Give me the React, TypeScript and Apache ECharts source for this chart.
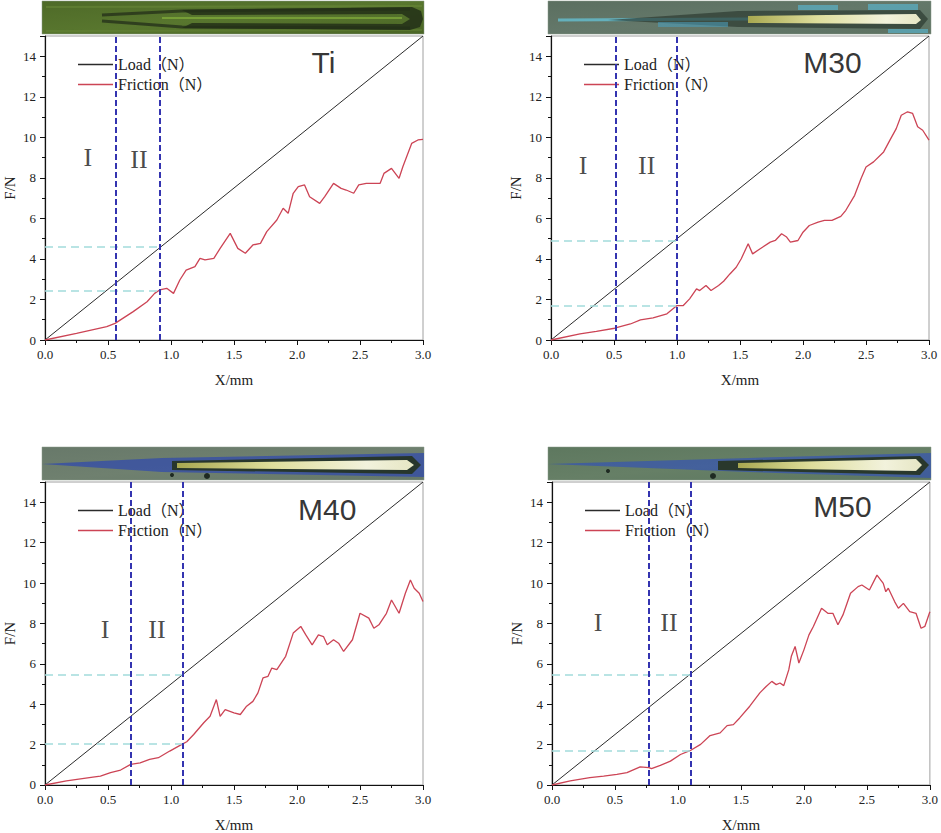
import React, { useEffect, useRef } from "react";
import * as echarts from "echarts";

// ---------- data ----------
const panelTitles = ["Ti", "M30", "M40", "M50"];
const loadLine: [number, number][] = [[0, 0], [3, 15]];

const frictionTi: [number, number][] = [
  [0, 0], [0.25, 0.33], [0.49, 0.66], [0.556, 0.82], [0.7, 1.4], [0.81, 1.89], [0.87, 2.3],
  [0.91, 2.47], [0.966, 2.55], [1.02, 2.3], [1.07, 2.96], [1.12, 3.45], [1.19, 3.62],
  [1.23, 4.03], [1.27, 3.95], [1.34, 4.03], [1.39, 4.52], [1.47, 5.26], [1.53, 4.52],
  [1.59, 4.28], [1.65, 4.69], [1.71, 4.77], [1.76, 5.35], [1.84, 5.92], [1.89, 6.5],
  [1.93, 6.25], [1.97, 7.24], [2.01, 7.57], [2.06, 7.65], [2.1, 7.07], [2.18, 6.74],
  [2.22, 7.07], [2.29, 7.73], [2.35, 7.48], [2.39, 7.4], [2.45, 7.24], [2.49, 7.65],
  [2.55, 7.73], [2.66, 7.73], [2.69, 8.22], [2.75, 8.47], [2.81, 7.98], [2.84, 8.55],
  [2.91, 9.7], [2.96, 9.87], [3.0, 9.9],
];
const frictionM30: [number, number][] = [
  [0, 0], [0.23, 0.3], [0.36, 0.43], [0.505, 0.58], [0.63, 0.79], [0.71, 0.99], [0.81, 1.09],
  [0.92, 1.29], [1.0, 1.7], [1.05, 1.7], [1.1, 2.03], [1.155, 2.52], [1.18, 2.44],
  [1.23, 2.69], [1.27, 2.44], [1.33, 2.69], [1.37, 2.9], [1.42, 3.26], [1.47, 3.59],
  [1.51, 4.01], [1.565, 4.75], [1.6, 4.25], [1.66, 4.5], [1.74, 4.83], [1.78, 4.91],
  [1.83, 5.24], [1.87, 5.08], [1.9, 4.83], [1.96, 4.91], [2.0, 5.32], [2.05, 5.65],
  [2.12, 5.82], [2.17, 5.9], [2.23, 5.9], [2.3, 6.1], [2.34, 6.4], [2.41, 7.14],
  [2.46, 7.96], [2.5, 8.54], [2.56, 8.79], [2.64, 9.28], [2.69, 9.86], [2.74, 10.43],
  [2.78, 11.09], [2.83, 11.26], [2.87, 11.18], [2.91, 10.52], [2.95, 10.35], [3.0, 9.86],
];
const frictionM40: [number, number][] = [
  [0, 0], [0.17, 0.2], [0.38, 0.39], [0.44, 0.44], [0.52, 0.61], [0.6, 0.74], [0.68, 1.02],
  [0.755, 1.1], [0.83, 1.27], [0.9, 1.35], [0.99, 1.68], [1.086, 2.01], [1.125, 2.14],
  [1.18, 2.5], [1.26, 3.08], [1.31, 3.4], [1.36, 4.23], [1.39, 3.4], [1.43, 3.73],
  [1.5, 3.57], [1.55, 3.49], [1.6, 3.9], [1.65, 4.14], [1.69, 4.56], [1.73, 5.3],
  [1.77, 5.38], [1.8, 5.79], [1.84, 5.71], [1.91, 6.37], [1.97, 7.52], [2.03, 7.85],
  [2.07, 7.43], [2.12, 6.94], [2.17, 7.43], [2.21, 7.35], [2.24, 6.94], [2.29, 7.19],
  [2.33, 7.02], [2.37, 6.61], [2.44, 7.19], [2.5, 8.5], [2.57, 8.26], [2.61, 7.76],
  [2.65, 7.93], [2.71, 8.5], [2.75, 9.16], [2.81, 8.5], [2.86, 9.49], [2.9, 10.15],
  [2.93, 9.74], [2.97, 9.49], [3.0, 9.08],
];
const frictionM50: [number, number][] = [
  [0, 0], [0.145, 0.2], [0.3, 0.36], [0.41, 0.44], [0.515, 0.53], [0.595, 0.61], [0.7, 0.9],
  [0.77, 0.86], [0.79, 0.81], [0.86, 0.97], [0.94, 1.18], [1.02, 1.51], [1.105, 1.73],
  [1.18, 2.01], [1.255, 2.45], [1.335, 2.58], [1.39, 2.94], [1.44, 2.99], [1.49, 3.32],
  [1.57, 3.9], [1.65, 4.56], [1.7, 4.88], [1.745, 5.13], [1.78, 4.97], [1.81, 5.05],
  [1.84, 4.92], [1.88, 5.71], [1.9, 6.37], [1.93, 6.86], [1.96, 6.04], [2.0, 6.69],
  [2.04, 7.43], [2.075, 7.85], [2.14, 8.75], [2.19, 8.5], [2.23, 8.5], [2.27, 7.93],
  [2.31, 8.42], [2.37, 9.49], [2.43, 9.82], [2.46, 9.9], [2.52, 9.65], [2.58, 10.39],
  [2.63, 9.98], [2.65, 9.57], [2.67, 9.74], [2.72, 9.08], [2.75, 8.75], [2.79, 8.99],
  [2.84, 8.58], [2.89, 8.5], [2.93, 7.76], [2.96, 7.85], [3.0, 8.58],
];
const frictionSets = [frictionTi, frictionM30, frictionM40, frictionM50];

// stage boundaries (mm) and critical force levels (N)
const stageStart = [0.556, 0.505, 0.68, 0.772];
const stageEnd = [0.91, 1.0, 1.086, 1.105];
const loadLevel = [4.6, 4.9, 5.46, 5.46];
const frictionLevel = [2.45, 1.7, 2.06, 1.68];

// annotation anchors in data space
const stageILabel: [number, number][] = [[0.34, 9.0], [0.254, 8.6], [0.476, 7.7], [0.365, 8.04]];
const stageIILabel: [number, number][] = [[0.746, 8.9], [0.76, 8.6], [0.889, 7.7], [0.929, 8.04]];
const titleAnchor: [number, number][] = [[2.21, 13.7], [2.234, 13.7], [2.24, 13.64], [2.306, 13.8]];

const xTicks = [0, 3, 0.5];
const yTicks = [0, 15, 2];

// ---------- layout ----------
const grids = [
  { left: 45, top: 36 },
  { left: 551, top: 36 },
  { left: 45, top: 482 },
  { left: 552, top: 482 },
];
const GW = 378;
const GH = 304;

const SERIF = "Liberation Serif, Times New Roman, DejaVu Serif, Noto Sans CJK SC, serif";
const SANS = "Liberation Sans, Arial, Noto Sans, sans-serif";

function strip(kind: number, x: number, y: number, w: number, h: number): any {
  const base = [
    ["#4e6a28", "#58762e", "#4b6626"],
    ["#5b6f60", "#64786a", "#5d7262"],
    ["#68796a", "#6f806f", "#657868"],
    ["#5e785f", "#667f66", "#5c7760"],
  ][kind];
  const children: any[] = [
    {
      type: "rect",
      shape: { x: 0, y: 0, width: w, height: h },
      style: {
        fill: new echarts.graphic.LinearGradient(0, 0, 1, 1, [
          { offset: 0, color: base[0] },
          { offset: 0.5, color: base[1] },
          { offset: 1, color: base[2] },
        ]),
        stroke: "#8a9a8a",
        lineWidth: 0.5,
      },
    },
  ];
  const bright = new echarts.graphic.LinearGradient(0, 0, 1, 0, [
    { offset: 0, color: "#a8a850" },
    { offset: 0.4, color: "#dede9c" },
    { offset: 0.8, color: "#f2f2dc" },
    { offset: 1, color: "#e6e6c4" },
  ]);
  if (kind === 0) {
    children.push(
      { type: "polyline", shape: { points: [[4, 6], [380, 5]] }, style: { stroke: "#6e8e3c", lineWidth: 2, opacity: 0.45 } },
      { type: "polyline", shape: { points: [[4, 30], [380, 29]] }, style: { stroke: "#6a8a3a", lineWidth: 2, opacity: 0.4 } },
      { type: "polyline", shape: { points: [[60, 14], [140, 10], [368, 8]] }, style: { stroke: "#25321a", lineWidth: 3, opacity: 0.8 } },
      { type: "polyline", shape: { points: [[60, 20], [140, 26], [368, 27]] }, style: { stroke: "#25321a", lineWidth: 3, opacity: 0.8 } },
      {
        type: "polygon",
        shape: { points: [[140, 9], [370, 6], [379, 10], [381, 18], [378, 26], [368, 29], [140, 27], [150, 22], [360, 23], [368, 18], [360, 13], [150, 14]] },
        style: { fill: "#233017", opacity: 0.85 },
      },
      { type: "polyline", shape: { points: [[120, 17], [360, 17]] }, style: { stroke: "#8fc040", lineWidth: 2, opacity: 0.55 } }
    );
  } else if (kind === 1) {
    children.push(
      { type: "polyline", shape: { points: [[10, 19], [200, 18]] }, style: { stroke: "#66c4d8", lineWidth: 3, opacity: 0.75 } },
      { type: "polygon", shape: { points: [[60, 19], [190, 10], [372, 9], [380, 18], [372, 28], [190, 26]] }, style: { fill: "#28362c", opacity: 0.65 } },
      { type: "polygon", shape: { points: [[200, 15], [368, 13], [373, 19], [368, 23], [200, 22]] }, style: { fill: bright } },
      { type: "rect", shape: { x: 250, y: 4, width: 40, height: 5 }, style: { fill: "#5ab0c8", opacity: 0.7 } },
      { type: "rect", shape: { x: 320, y: 3, width: 50, height: 6 }, style: { fill: "#5ab0c8", opacity: 0.7 } },
      { type: "rect", shape: { x: 340, y: 28, width: 40, height: 4 }, style: { fill: "#5ab0c8", opacity: 0.7 } },
      { type: "rect", shape: { x: 110, y: 21, width: 70, height: 5 }, style: { fill: "#4aa0c0", opacity: 0.55 } }
    );
  } else if (kind === 2) {
    children.push(
      { type: "polygon", shape: { points: [[0, 17], [120, 11], [382, 6], [382, 30], [120, 25]] }, style: { fill: "#2a44b4", opacity: 0.65 } },
      { type: "polygon", shape: { points: [[130, 14], [370, 9], [379, 18], [370, 27], [130, 23]] }, style: { fill: "#27362c" } },
      { type: "polygon", shape: { points: [[135, 16], [365, 13], [372, 18], [365, 23], [135, 21]] }, style: { fill: bright } },
      { type: "circle", shape: { cx: 165, cy: 29, r: 3 }, style: { fill: "#1e2a22" } },
      { type: "circle", shape: { cx: 130, cy: 28, r: 2 }, style: { fill: "#1e2a22" } }
    );
  } else {
    children.push(
      { type: "polygon", shape: { points: [[0, 17], [200, 11], [383, 6], [383, 31], [200, 25]] }, style: { fill: "#2d4cc0", opacity: 0.6 } },
      { type: "polygon", shape: { points: [[170, 14], [372, 9], [381, 18], [372, 28], [170, 23]] }, style: { fill: "#29382c" } },
      { type: "polygon", shape: { points: [[190, 16], [368, 12], [374, 18], [368, 24], [190, 21]] }, style: { fill: bright } },
      { type: "circle", shape: { cx: 165, cy: 29, r: 3 }, style: { fill: "#1e2a22" } },
      { type: "circle", shape: { cx: 60, cy: 24, r: 2 }, style: { fill: "#1e2a22" } }
    );
  }
  return { type: "group", x, y, silent: true, children };
}

function buildOption(): any {
  const grid: any[] = [];
  const xAxis: any[] = [];
  const yAxis: any[] = [];
  const legend: any[] = [];
  const series: any[] = [];

  grids.forEach((g, i) => {
    grid.push({
      left: g.left,
      top: g.top,
      width: GW,
      height: GH,
      show: true,
      borderColor: "#a0a0a0",
      borderWidth: 1,
      backgroundColor: "transparent",
    });
    xAxis.push({
      type: "value",
      gridIndex: i,
      min: xTicks[0],
      max: xTicks[1],
      interval: xTicks[2],
      name: "X/mm",
      nameLocation: "middle",
      nameGap: 32,
      nameTextStyle: { fontFamily: SERIF, fontSize: 15, color: "#222" },
      axisLine: { lineStyle: { color: "#111", width: 1.2 } },
      axisTick: { length: 5, lineStyle: { color: "#111" } },
      minorTick: { show: true, splitNumber: 2, length: 3, lineStyle: { color: "#111" } },
      axisLabel: {
        fontFamily: SERIF,
        fontSize: 13,
        color: "#222",
        margin: 8,
        formatter: (v: number) => v.toFixed(1),
      },
      splitLine: { show: false },
    });
    yAxis.push({
      type: "value",
      gridIndex: i,
      min: yTicks[0],
      max: yTicks[1],
      interval: yTicks[2],
      name: "F/N",
      nameLocation: "middle",
      nameGap: 28,
      nameTextStyle: { fontFamily: SERIF, fontSize: 15, color: "#222" },
      axisLine: { show: true, lineStyle: { color: "#111", width: 1.2 } },
      axisTick: { show: true, length: 5, lineStyle: { color: "#111" } },
      minorTick: { show: true, splitNumber: 2, length: 3, lineStyle: { color: "#111" } },
      axisLabel: { fontFamily: SERIF, fontSize: 13, color: "#222", margin: 9, showMaxLabel: false },
      splitLine: { show: false },
    });
    legend.push({
      left: g.left + 33,
      top: g.top + 20,
      orient: "vertical",
      icon: "rect",
      itemWidth: 35,
      itemHeight: 1.4,
      itemGap: 3,
      padding: 0,
      data: ["Load（N）", "Friction（N）"],
      textStyle: { fontFamily: SERIF, fontSize: 16, color: "#222", lineHeight: 17 },
      selectedMode: false,
    });

    series.push({
      name: "Load（N）",
      type: "line",
      xAxisIndex: i,
      yAxisIndex: i,
      data: loadLine,
      symbol: "none",
      lineStyle: { color: "#2b2b2b", width: 1 },
      itemStyle: { color: "#2b2b2b" },
      z: 2,
      markLine: {
        silent: true,
        symbol: "none",
        label: { show: false },
        lineStyle: { color: "#a2dcdc", width: 1.5, type: [8, 5] },
        data: [
          [{ coord: [0, loadLevel[i]] }, { coord: [stageEnd[i], loadLevel[i]] }],
          [{ coord: [0, frictionLevel[i]] }, { coord: [stageEnd[i], frictionLevel[i]] }],
        ],
      },
    });
    series.push({
      name: "Friction（N）",
      type: "line",
      xAxisIndex: i,
      yAxisIndex: i,
      data: frictionSets[i],
      symbol: "none",
      lineStyle: { color: "#cc4455", width: 1.3 },
      itemStyle: { color: "#cc4455" },
      z: 3,
      markLine: {
        silent: true,
        symbol: "none",
        label: { show: false },
        lineStyle: { color: "#3434b0", width: 2, type: [6, 3] },
        data: [{ xAxis: stageStart[i] }, { xAxis: stageEnd[i] }],
      },
    });
    series.push({
      name: "annot" + i,
      type: "scatter",
      xAxisIndex: i,
      yAxisIndex: i,
      symbolSize: 1,
      silent: true,
      itemStyle: { color: "rgba(0,0,0,0)" },
      label: {
        show: true,
        position: "inside",
        formatter: "{b}",
        fontFamily: SERIF,
        fontSize: 26,
        color: "#1a1a1a",
      },
      z: 4,
      data: [
        { name: "I", value: stageILabel[i] },
        { name: "II", value: stageIILabel[i] },
        {
          name: panelTitles[i],
          value: titleAnchor[i],
          label: { fontFamily: SANS, fontSize: 30, color: "#000" },
        },
      ],
    });
  });

  const graphic = [
    strip(0, 42, 1, 382, 33),
    strip(1, 548, 1, 383, 33),
    strip(2, 42, 447, 382, 33),
    strip(3, 548, 447, 383, 33),
  ];

  return {
    animation: false,
    backgroundColor: "#ffffff",
    grid,
    xAxis,
    yAxis,
    legend,
    series,
    graphic,
  };
}

export default function App() {
  const ref = useRef<HTMLDivElement>(null);
  useEffect(() => {
    if (!ref.current) return;
    const chart = echarts.init(ref.current, undefined, { renderer: "svg" });
    chart.setOption(buildOption());
    return () => chart.dispose();
  }, []);
  return (
    <div
      ref={ref}
      style={{ position: "absolute", left: 0, top: 0, width: 941, height: 833 }}
    />
  );
}
